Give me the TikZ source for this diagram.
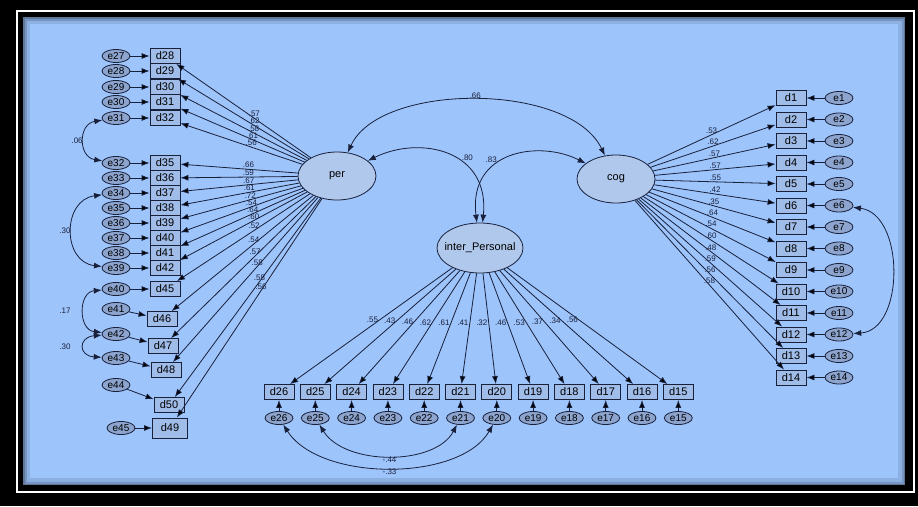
\documentclass[tikz,border=0pt]{standalone}
\usepackage{fontspec}
\setmainfont{Liberation Sans}
\usetikzlibrary{arrows.meta,shapes.geometric}
\definecolor{amosbg}{RGB}{158,196,252}
\definecolor{amosline}{RGB}{24,32,58}
\definecolor{amosbox}{RGB}{160,188,232}
\definecolor{amoserr}{RGB}{140,164,206}
\definecolor{amoslat}{RGB}{176,200,236}

\begin{document}
\begin{tikzpicture}[x=1pt,y=-1pt,>={Latex[length=8pt,width=6pt]},line width=.8pt,
    obs/.style={rectangle,draw=amosline,fill=amosbox,minimum width=30pt,
                minimum height=15pt,inner sep=0pt,font=\fontsize{11}{11}\selectfont},
    err/.style={ellipse,draw=amosline,fill=amoserr,minimum width=28pt,
                minimum height=13pt,inner sep=0pt,font=\fontsize{10}{10}\selectfont},
    lat/.style={ellipse,draw=amosline,fill=amoslat,inner xsep=-6pt,inner ysep=0pt,
                font=\fontsize{11}{11}\selectfont},
    load/.style={->,draw=amosline},
    cov/.style={<->,draw=amosline},
    lbl/.style={inner sep=1pt,text=amosline,font=\fontsize{8}{8}\selectfont}]

  \useasboundingbox (0,0) rectangle (918,506);
  \fill[black] (0,0) rectangle (918,506);
  \draw[white,line width=2pt] (17,11) rectangle (914,492);
  \fill[amosbg] (23,17) rectangle (905,485);
  \begin{scope}
    \clip (23,17) rectangle (905,485);
    \draw[black,opacity=.1,line width=14pt] (23,17) rectangle (905,485);
    \draw[black,opacity=.15,line width=7pt] (23,17) rectangle (905,485);
    \draw[black,opacity=.2,line width=3pt] (23,17) rectangle (905,485);
  \end{scope}

  \node[lat,minimum width=78pt,minimum height=48pt] (per) at (337,176) {per};
  \node[lat,minimum width=78pt,minimum height=48pt] (cog) at (616,179) {cog};
  \node[lat,minimum width=86pt,minimum height=50pt] (inter) at (480,248) {inter\_Personal};

  % per indicators
  \foreach \e/\k/\y in {27/28/56,28/29/71,29/30/87,30/31/102,31/32/118,
      32/35/163,33/36/178,34/37/193,35/38/208,36/39/223,37/40/238,
      38/41/253,39/42/268,40/45/289}{
    \node[obs] (d\k) at (165,\y) {d\k};
    \node[err] (e\e) at (116,\y) {e\e};
    \path[load] (e\e) edge (d\k);
  }
  \foreach \e/\ey/\k/\kx/\ky in {41/309/46/162/319,42/334/47/163/346,
      43/358/48/166/370,44/385/50/169/405}{
    \node[obs] (d\k) at (\kx,\ky) {d\k};
    \node[err] (e\e) at (116,\ey) {e\e};
    \path[load] (e\e) edge (d\k);
  }
  \node[obs,minimum width=35pt,minimum height=20pt] (d49) at (170,428) {d49};
  \node[err] (e45) at (121,428) {e45};
  \path[load] (e45) edge (d49);

  % cog indicators
  \foreach \k in {1,...,14}{
    \node[obs] (d\k) at (791,{98+21.5*(\k-1)}) {d\k};
    \node[err] (e\k) at (839,{98+21.5*(\k-1)}) {e\k};
    \path[load] (e\k) edge (d\k);
  }

  % inter_Personal indicators
  \foreach \k in {15,...,26}{
    \node[obs] (d\k) at ({279+36.3*(26-\k)},392) {d\k};
    \node[err] (e\k) at ({279+36.3*(26-\k)},418) {e\k};
    \path[load] (e\k) edge (d\k);
  }

  \foreach \k/\v in {28/.57,29/.62,30/.58,31/.61,32/.56,35/.66,36/.59,
      37/.67,38/.61,39/.72,40/.54,41/.64,42/.60,45/.52,46/.54,47/.57,
      48/.58,50/.58,49/.56}
    \path[load] (per) edge node[lbl,pos=.42,above] {\v} (d\k);
  \foreach \k/\v in {1/.53,2/.62,3/.57,4/.57,5/.55,6/.42,7/.35,8/.64,
      9/.54,10/.60,11/.48,12/.59,13/.56,14/.58}
    \path[load] (cog) edge node[lbl,pos=.5,above] {\v} (d\k);
  \foreach \k/\v in {26/.55,25/.43,24/.46,23/.62,22/.61,21/.41,20/.32,
      19/.46,18/.53,17/.37,16/.34,15/.56}
    \path[load] (inter) edge node[lbl,pos=.45,left] {\v} (d\k);

  \draw[cov] (per) .. controls (380,82) and (570,82) .. node[lbl,above] {.66} (cog);
  \draw[cov] (per) .. controls (420,135) and (490,150) .. node[lbl,pos=.6,above right] {.80} (inter);
  \draw[cov] (cog) .. controls (540,140) and (468,150) .. node[lbl,pos=.6,above left] {.83} (inter);

  \draw[cov] (e31) .. controls (78,124) and (78,157) .. node[lbl,left] {.06} (e32);
  \draw[cov] (e34) .. controls (62,200) and (62,262) .. node[lbl,left] {.30} (e39);
  \draw[cov] (e40) .. controls (78,292) and (78,330) .. node[lbl,left=12pt] {.17} (e42);
  \draw[cov] (e42) .. controls (78,337) and (78,356) .. node[lbl,left=12pt] {.30} (e43);
  \draw[cov] (e6) .. controls (905,214) and (905,330) .. (e12);
  \draw[cov] (e26) .. controls (320,482) and (460,482) .. node[lbl,below] {-.33} (e20);
  \draw[cov] (e25) .. controls (345,466) and (435,466) .. node[lbl,below] {-.44} (e21);
\end{tikzpicture}
\end{document}
